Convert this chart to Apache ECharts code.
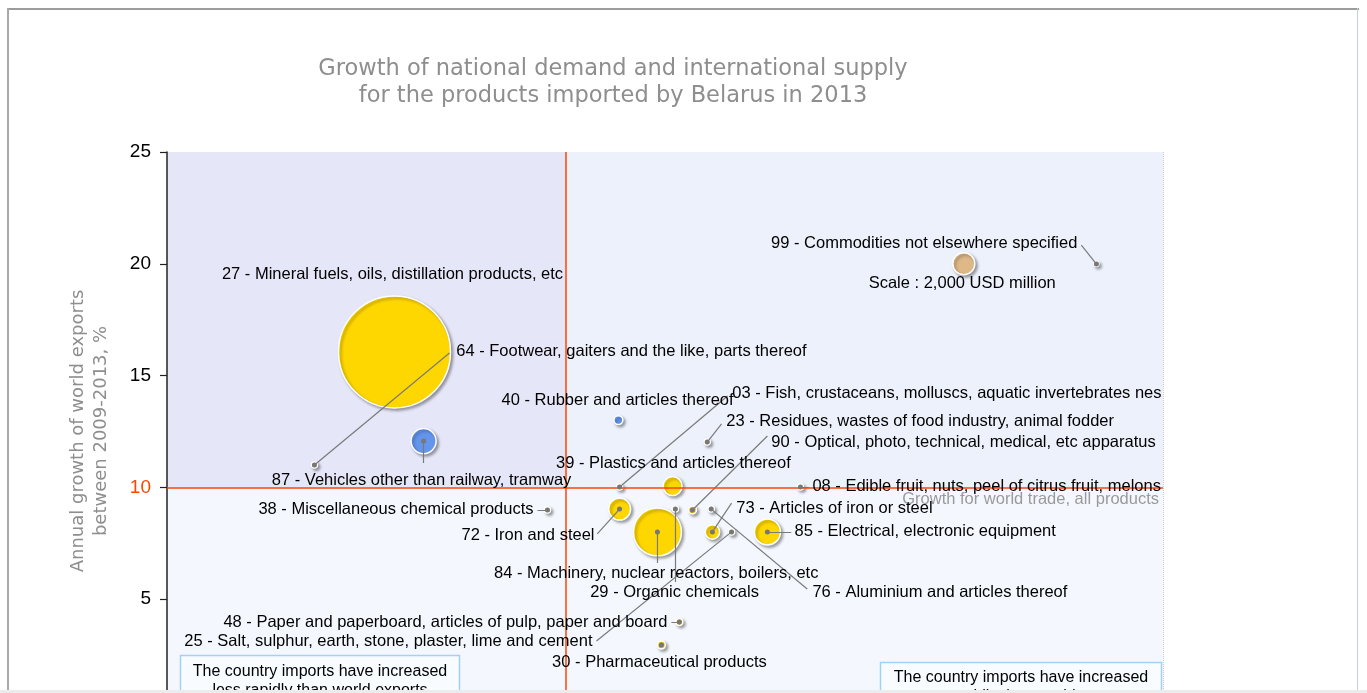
<!DOCTYPE html>
<html>
<head>
<meta charset="utf-8">
<script src="https://cdn.jsdelivr.net/npm/echarts@6/dist/echarts.min.js"></script>
<style>
  html, body { margin:0; padding:0; width:1367px; height:693px; overflow:hidden; background:#fff; }
  #main { position:absolute; left:0; top:0; width:1367px; height:760px; }
  #frameTop { position:absolute; left:7px; top:8px; width:1352px; height:2px; background:#9c9c9c; }
  #frameLeft { position:absolute; left:7px; top:8px; width:2px; height:690px; background:#a8a8a8; }
  #frameRight { position:absolute; left:1357px; top:8px; width:1px; height:690px; background:#c3d0da; }
  #frameBottom { position:absolute; left:0; top:690px; width:1367px; height:3px; background:#ececec; }
</style>
</head>
<body>
<div id="main"></div>
<div id="frameTop"></div>
<div id="frameLeft"></div>
<div id="frameRight"></div>
<div id="frameBottom"></div>
<script>
// ---------------- DATA ----------------
const codes = ['27','64','87','40','03','23','90','39','08','38','72','84','29','73','76','85','25','48','30','99'];
const names = [
  'Mineral fuels, oils, distillation products, etc',
  'Footwear, gaiters and the like, parts thereof',
  'Vehicles other than railway, tramway',
  'Rubber and articles thereof',
  'Fish, crustaceans, molluscs, aquatic invertebrates nes',
  'Residues, wastes of food industry, animal fodder',
  'Optical, photo, technical, medical, etc apparatus',
  'Plastics and articles thereof',
  'Edible fruit, nuts, peel of citrus fruit, melons',
  'Miscellaneous chemical products',
  'Iron and steel',
  'Machinery, nuclear reactors, boilers, etc',
  'Organic chemicals',
  'Articles of iron or steel',
  'Aluminium and articles thereof',
  'Electrical, electronic equipment',
  'Salt, sulphur, earth, stone, plaster, lime and cement',
  'Paper and paperboard, articles of pulp, paper and board',
  'Pharmaceutical products',
  'Commodities not elsewhere specified'
];
// Annual growth of Belarus imports (x) and of world exports 2009-2013 (y), %
const importGrowth = [-4.29, -6.30, -3.56, 1.33, 1.36, 3.56, 3.19, 2.69, 5.90, -0.45, 1.36, 2.31, 2.76, 3.69, 3.66, 5.07, 4.17, 2.86, 2.41, 13.33];
const worldGrowth  = [16.06, 11.00, 12.07, 13.01, 10.02, 12.03, 8.99, 10.06, 10.02, 8.99, 9.03, 8.01, 9.03, 8.01, 9.03, 8.01, 8.01, 3.98, 2.95, 19.99];
// Imported value, USD million
const importValue  = [51800, 150, 2600, 330, 150, 150, 265, 1490, 150, 150, 2000, 9500, 150, 870, 150, 2800, 150, 200, 265, 100];
// colour group: 'A' = yellow, 'B' = blue
const colorGroup   = ['A','A','B','B','A','A','A','A','A','A','A','A','A','A','A','A','A','A','A','A'];
const worldTradeGrowth = 10;
const scaleValue = 2000;
const scaleLabel = 'Scale : 2,000 USD million';
const scalePoint = [10, 20];
const yTicks = [0, 5, 10, 15, 20, 25];
const titleText = 'Growth of national demand and international supply\nfor the products imported by Belarus in 2013';
const yAxisTitle = 'Annual growth of world exports\nbetween 2009-2013, %';
const worldLineLabel = 'Growth for world trade, all products';
const boxLeftText = 'The country imports have increased\nless rapidly than world exports';
const boxRightText = 'The country imports have increased\nmore rapidly than world exports';

// ---------------- LAYOUT (label anchors, in data units) ----------------
const labelLayout = {
  '27': { at:[-4.34, 19.54], align:'center' },
  '64': { at:[-2.74, 16.10], align:'left',   line:[-2.91, 16.01] },
  '87': { at:[-3.61, 10.33], align:'center', line:[-3.56, 11.09] },
  '40': { at:[1.31, 13.91],  align:'center' },
  '03': { at:[4.19, 14.18],  align:'left',   line:[4.07, 14.09] },
  '23': { at:[4.04, 12.97],  align:'left',   line:[3.92, 12.84] },
  '90': { at:[5.17, 12.03],  align:'left',   line:[5.07, 12.30] },
  '39': { at:[2.71, 11.09],  align:'center' },
  '08': { at:[6.20, 10.02],  align:'left',   line:[6.12, 10.02] },
  '38': { at:[-0.80, 9.03],  align:'right',  line:[-0.70, 8.99] },
  '72': { at:[0.73, 7.87],   align:'right',  line:[0.80, 7.92] },
  '84': { at:[2.28, 6.17],   align:'center', line:[2.31, 6.62] },
  '29': { at:[2.74, 5.32],   align:'center', line:[2.76, 5.77] },
  '73': { at:[4.29, 9.08],   align:'left',   line:[4.17, 9.30] },
  '76': { at:[6.20, 5.32],   align:'left',   line:[6.07, 5.46] },
  '85': { at:[5.75, 8.01],   align:'left',   line:[5.67, 8.01] },
  '25': { at:[0.68, 3.09],   align:'right',  line:[0.78, 3.13] },
  '48': { at:[2.56, 3.98],   align:'right',  line:[2.66, 3.98] },
  '30': { at:[2.36, 2.19],   align:'center', dot:true },
  '99': { at:[12.85, 20.93], align:'right',  line:[12.95, 20.84] }
};
const scaleLabelAt = [9.96, 19.10];

// ---------------- STYLE ----------------
const colors = { A:'#FFD700', B:'#6495ED' };
const scaleColor = '#DEB887';
const labelFont = 'Liberation Sans, Arial, sans-serif';
function bubbleSize(v) { return 22 * Math.sqrt(v / scaleValue); }
const bubbleStyleBase = { opacity:1, borderColor:'#ffffff', borderWidth:1.5, shadowColor:'rgba(0,0,0,0.35)', shadowBlur:3, shadowOffsetX:2, shadowOffsetY:2 };

const bubbleData = codes.map((c, i) => ({
  name: c,
  value: [importGrowth[i], worldGrowth[i], importValue[i]],
  symbolSize: bubbleSize(importValue[i]),
  itemStyle: Object.assign({ color: colors[colorGroup[i]] }, bubbleStyleBase)
}));
bubbleData.push({
  name: 'scale', value: [scalePoint[0], scalePoint[1], scaleValue],
  symbolSize: bubbleSize(scaleValue),
  itemStyle: Object.assign({ color: scaleColor }, bubbleStyleBase)
});

const leaderData = [];
const dotData = [];
codes.forEach((c, i) => {
  const L = labelLayout[c];
  if (L.line) {
    leaderData.push({ coords: [[importGrowth[i], worldGrowth[i]], L.line] });
    dotData.push([importGrowth[i], worldGrowth[i]]);
  } else if (L.dot) {
    dotData.push([importGrowth[i], worldGrowth[i]]);
  }
});

const labelData = codes.map((c, i) => ({
  name: c + ' - ' + names[i],
  value: labelLayout[c].at,
  label: { align: labelLayout[c].align }
}));
labelData.push({ name: scaleLabel, value: scaleLabelAt, label: { align:'center' } });

const chart = echarts.init(document.getElementById('main'));
chart.setOption({
  animation: false,
  backgroundColor: 'transparent',
  title: {
    text: titleText,
    left: 613, top: 56, textAlign: 'center', padding: 0,
    textStyle: { fontFamily:'DejaVu Sans, Verdana, sans-serif', fontSize: 22.5, fontWeight:'normal', color:'#8e8e8e', lineHeight: 27 }
  },
  grid: { left:167, top:152, width:996, height:559 },
  xAxis: {
    type:'value', min:-10, max:15, interval:5, z:1,
    axisLine:{ show:false, onZero:false }, axisTick:{ show:false },
    axisLabel:{ show:false },
    splitLine:{ show:true, lineStyle:{ type:'dotted', color:'#c9c9c9', width:1 } }
  },
  yAxis: {
    type:'value', min:0, max:25, interval:5, z:1,
    axisLine:{ show:true, onZero:false, lineStyle:{ color:'#222', width:1.5 } },
    axisTick:{ show:true, length:7, lineStyle:{ color:'#222', width:1.2 } },
    axisLabel:{ margin:16, fontSize:19, fontFamily:labelFont,
      color: (v) => (Number(v) === worldTradeGrowth ? '#FF4500' : '#000'),
      customValues: yTicks },
    splitLine:{ show:true, lineStyle:{ type:'dotted', color:'#c9c9c9', width:1 } }
  },
  graphic: [
    { type:'text', x:90, y:431, rotation: Math.PI/2, z:10,
      style:{ text:yAxisTitle, textAlign:'center', textVerticalAlign:'middle', fill:'#8e8e8e',
              font:'18px "DejaVu Sans", Verdana, sans-serif', lineHeight:23 } },
    { type:'rect', z:10, shape:{ x:180.5, y:655.5, width:279, height:70 },
      style:{ fill:'#F8FBFF', stroke:'#9ED3F5', lineWidth:1.5 } },
    { type:'text', z:11, x:320, y:662, style:{ text:boxLeftText, textAlign:'center', textVerticalAlign:'top',
      fill:'#000', font:'16px "Liberation Sans", Arial, sans-serif', lineHeight:19 } },
    { type:'rect', z:10, shape:{ x:880.5, y:662.5, width:281, height:70 },
      style:{ fill:'#F8FBFF', stroke:'#9ED3F5', lineWidth:1.5 } },
    { type:'text', z:11, x:1021, y:668, style:{ text:boxRightText, textAlign:'center', textVerticalAlign:'top',
      fill:'#000', font:'16px "Liberation Sans", Arial, sans-serif', lineHeight:19 } }
  ],
  series: [
    {
      type:'scatter', data:[], z:0, silent:true,
      markArea: {
        silent:true,
        data: [
          [ { xAxis:-10, yAxis:worldTradeGrowth, itemStyle:{ color:'#E6E6F9', opacity:1 } }, { xAxis:0, yAxis:25 } ],
          [ { xAxis:0, yAxis:worldTradeGrowth, itemStyle:{ color:'#EDF1FB', opacity:1 } }, { xAxis:15, yAxis:25 } ],
          [ { xAxis:-10, yAxis:0, itemStyle:{ color:'#F4F8FE', opacity:1 } }, { xAxis:15, yAxis:worldTradeGrowth } ]
        ]
      }
    },
    {
      type:'scatter', data:[], z:2, silent:true,
      markLine: {
        silent:true, symbol:['none','none'],
        lineStyle:{ color:'#FF4500', width:1.5, type:'solid', opacity:1 },
        data: [
          { yAxis: worldTradeGrowth,
            label:{ show:true, position:'insideEndBottom', formatter: worldLineLabel, color:'#9a9a9a',
                    fontSize:16.5, fontFamily:labelFont, distance:[4, 4] } },
          { xAxis: 0, label:{ show:false } }
        ]
      }
    },
    {
      type:'scatter', z:3, silent:true, itemStyle:{ opacity:1 }, data: bubbleData
    },
    {
      type:'lines', coordinateSystem:'cartesian2d', z:4, silent:true,
      lineStyle:{ color:'#7a7a7a', width:1.2, opacity:1 },
      data: leaderData
    },
    {
      type:'scatter', z:5, silent:true, symbolSize:5,
      itemStyle:{ color:'#777', opacity:1 }, data: dotData
    },
    {
      type:'scatter', z:6, silent:true, symbolSize:1,
      itemStyle:{ color:'rgba(0,0,0,0)', opacity:1 },
      label:{ show:true, position:'inside', formatter:(p) => p.name, color:'#000', opacity:1,
              fontSize:16.5, fontFamily:labelFont, verticalAlign:'middle' },
      data: labelData
    }
  ]
});
</script>
</body>
</html>
